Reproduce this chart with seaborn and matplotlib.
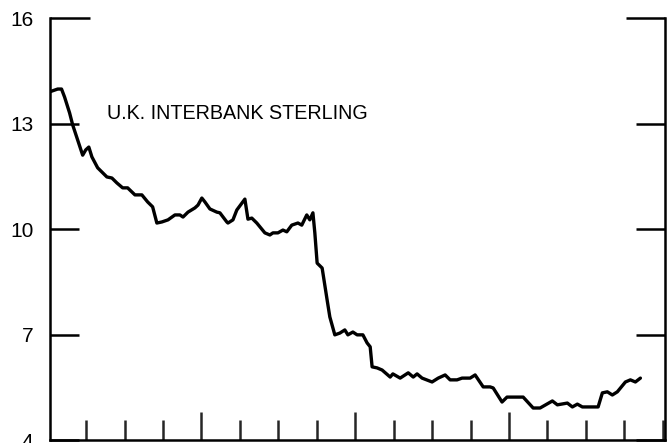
import matplotlib
matplotlib.use("Agg")
import matplotlib.pyplot as plt
import seaborn as sns
import pandas as pd
from matplotlib.ticker import MultipleLocator

# time in quarters from start of chart, rate in percent
quarter = [0.05, 0.26, 0.36, 0.44, 0.57, 0.65, 0.78, 0.91, 0.99, 1.07, 1.15, 1.30,
           1.54, 1.67, 1.80, 1.95, 2.08, 2.27, 2.45, 2.60, 2.73, 2.84, 2.97, 3.13,
           3.31, 3.44, 3.52, 3.65, 3.83, 3.91, 4.01, 4.09, 4.22, 4.40, 4.48, 4.66,
           4.69, 4.82, 4.92, 5.13, 5.21, 5.31, 5.44, 5.65, 5.78, 5.86, 5.99, 6.12,
           6.22, 6.35, 6.51, 6.61, 6.74, 6.82, 6.90, 6.95, 7.01, 7.14, 7.27, 7.34,
           7.47, 7.60, 7.73, 7.81, 7.94, 8.05, 8.20, 8.31, 8.39, 8.44, 8.57, 8.70,
           8.91, 8.98, 9.17, 9.38, 9.51, 9.61, 9.74, 10.00, 10.16, 10.34, 10.47, 10.65,
           10.78, 10.99, 11.12, 11.33, 11.51, 11.59, 11.82, 11.95, 12.21, 12.37, 12.63,
           12.81, 13.13, 13.26, 13.52, 13.65, 13.78, 13.91, 14.17, 14.32, 14.43, 14.56,
           14.69, 14.82, 15.03, 15.16, 15.29, 15.42]
rate = [13.90, 13.98, 13.98, 13.75, 13.30, 12.96, 12.53, 12.10, 12.25, 12.33, 12.05, 11.74,
        11.48, 11.45, 11.31, 11.17, 11.17, 10.97, 10.97, 10.77, 10.63, 10.17, 10.20, 10.26,
        10.40, 10.40, 10.34, 10.48, 10.60, 10.68, 10.88, 10.77, 10.57, 10.48, 10.46, 10.20,
        10.17, 10.26, 10.54, 10.85, 10.28, 10.31, 10.17, 9.89, 9.83, 9.89, 9.89, 9.97,
        9.92, 10.11, 10.17, 10.11, 10.40, 10.26, 10.46, 9.89, 9.03, 8.89, 7.98, 7.50,
        6.99, 7.04, 7.13, 6.99, 7.07, 6.99, 6.99, 6.76, 6.65, 6.08, 6.05, 5.99,
        5.79, 5.88, 5.76, 5.91, 5.79, 5.88, 5.76, 5.65, 5.76, 5.85, 5.71, 5.71,
        5.76, 5.76, 5.85, 5.51, 5.51, 5.48, 5.08, 5.22, 5.22, 5.22, 4.91,
        4.91, 5.11, 5.00, 5.05, 4.94, 5.02, 4.94, 4.94, 4.94, 5.34, 5.37,
        5.28, 5.37, 5.65, 5.71, 5.65, 5.76]

y_ticks = [4, 7, 10, 13, 16]
y_tick_labels = ["4", "7", "10", "13", "16"]
title_text = "U.K. INTERBANK STERLING"

sns.set_style("white")
plt.rcParams["font.family"] = ["Liberation Sans", "DejaVu Sans"]

df = pd.DataFrame({"quarter": quarter, "rate": rate})

fig = plt.figure(figsize=(6.67, 4.43), dpi=100)
ax = fig.add_axes([50 / 667, 1 - 440 / 443, 615 / 667, 422 / 443])

sns.lineplot(data=df, x="quarter", y="rate", ax=ax, color="black",
             linewidth=2.4, estimator=None, sort=False)
ax.lines[0].set_solid_joinstyle("round")

ax.set_xlim(0.06, 16.06)
ax.set_ylim(4, 16)
ax.set_xlabel("")
ax.set_ylabel("")

ax.set_yticks(y_ticks)
ax.set_yticklabels(y_tick_labels, fontsize=15)
ax.xaxis.set_major_locator(MultipleLocator(4))
ax.xaxis.set_minor_locator(MultipleLocator(1))
ax.set_xticks([4, 8, 12])
ax.set_xticklabels([])

ax.tick_params(axis="y", which="major", direction="in", length=21, width=1.8,
               left=True, right=True, labelleft=True, labelright=False, pad=12,
               colors="black")
ax.tick_params(axis="x", which="major", direction="in", length=20, width=1.8,
               bottom=True, top=False, labelbottom=False)
ax.tick_params(axis="x", which="minor", direction="in", length=14.4, width=1.8,
               bottom=True, top=False)

# longer ticks at the top value
for t in ax.yaxis.get_major_ticks():
    if abs(t.get_loc() - 16) < 1e-6:
        t.tick1line.set_markersize(29)
        t.tick2line.set_markersize(28)

for side in ["left", "right", "bottom"]:
    ax.spines[side].set_visible(True)
    ax.spines[side].set_color("black")
    ax.spines[side].set_linewidth(1.8)
ax.spines["top"].set_visible(False)
ax.grid(False)

ax.text(0.093, 0.773, title_text, transform=ax.transAxes, fontsize=14.2,
        ha="left", va="center", color="black")

fig.savefig("out.png", dpi=100, facecolor="white")
